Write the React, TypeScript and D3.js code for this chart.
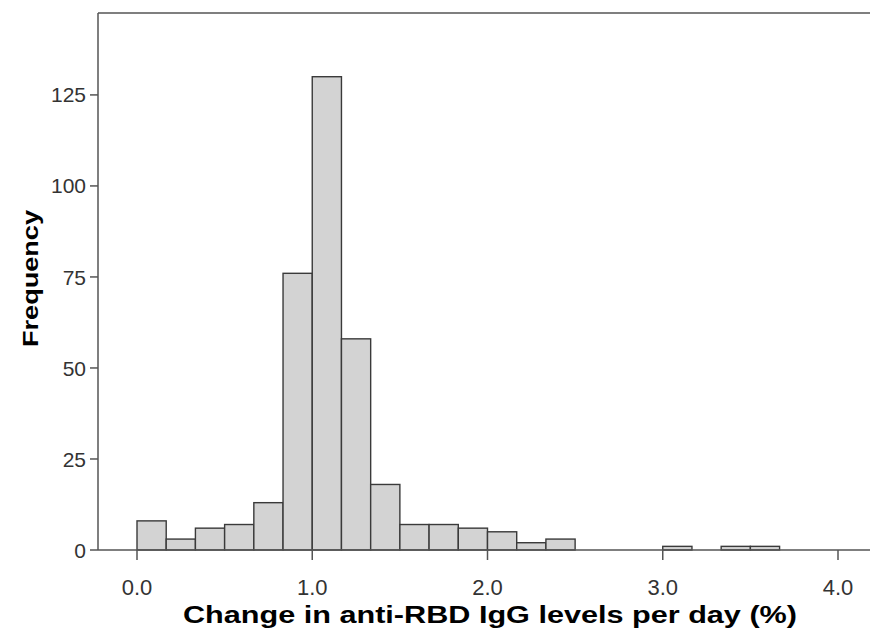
import React, { useEffect, useRef } from 'react';
import * as d3 from 'd3';

// histogram bins of width 1/6 starting at 0.0
const binWidth = 1 / 6;
const counts = [8, 3, 6, 7, 13, 76, 130, 58, 18, 7, 7, 6, 5, 2, 3, 0, 0, 0, 1, 0, 1, 1];
const xTicks = [0, 1, 2, 3, 4];
const yTicks = [0, 25, 50, 75, 100, 125];
const xTitle = 'Change in anti-RBD IgG levels per day (%)';
const yTitle = 'Frequency';

const W = 870;
const H = 631;

export default function App() {
  const svgRef = useRef<SVGSVGElement>(null);

  useEffect(() => {
    if (!svgRef.current) return;
    const svg = d3.select(svgRef.current);
    svg.selectAll('*').remove();

    const frame = { left: 98, top: 13, right: 870, bottom: 550 };

    const x = d3.scaleLinear().domain([0, 4]).range([137, 838]);
    const y = d3.scaleLinear().domain([0, 147.5]).range([frame.bottom, frame.top]);

    const bins = counts.map((c, i) => ({ x0: i * binWidth, x1: (i + 1) * binWidth, c }));

    // bars
    svg.append('g')
      .selectAll('rect')
      .data(bins.filter(d => d.c > 0))
      .enter()
      .append('rect')
      .attr('x', d => x(d.x0))
      .attr('y', d => y(d.c))
      .attr('width', d => x(d.x1) - x(d.x0))
      .attr('height', d => y(0) - y(d.c))
      .attr('fill', '#d3d3d3')
      .attr('stroke', '#3a3a3a')
      .attr('stroke-width', 1.4);

    // frame: top and left lines, bottom axis
    const lineColor = '#555';
    svg.append('line')
      .attr('x1', frame.left).attr('x2', frame.right)
      .attr('y1', frame.top).attr('y2', frame.top)
      .attr('stroke', lineColor).attr('stroke-width', 1.5);
    svg.append('line')
      .attr('x1', frame.left).attr('x2', frame.left)
      .attr('y1', frame.top).attr('y2', frame.bottom)
      .attr('stroke', lineColor).attr('stroke-width', 1.5);
    svg.append('line')
      .attr('x1', frame.left).attr('x2', frame.right)
      .attr('y1', frame.bottom).attr('y2', frame.bottom)
      .attr('stroke', lineColor).attr('stroke-width', 1.5);

    // y ticks
    const yg = svg.append('g');
    yTicks.forEach(t => {
      yg.append('line')
        .attr('x1', frame.left - 8).attr('x2', frame.left)
        .attr('y1', y(t)).attr('y2', y(t))
        .attr('stroke', lineColor).attr('stroke-width', 1.5);
      yg.append('text')
        .attr('x', frame.left - 12)
        .attr('y', y(t))
        .attr('dy', '0.36em')
        .attr('text-anchor', 'end')
        .attr('font-family', 'Liberation Sans, Arial, sans-serif')
        .attr('font-size', 21)
        .attr('fill', '#333')
        .text(String(t));
    });

    // x ticks
    const xg = svg.append('g');
    xTicks.forEach(t => {
      xg.append('line')
        .attr('x1', x(t)).attr('x2', x(t))
        .attr('y1', frame.bottom).attr('y2', frame.bottom + 10)
        .attr('stroke', lineColor).attr('stroke-width', 1.5);
      xg.append('text')
        .attr('x', x(t))
        .attr('y', 595)
        .attr('text-anchor', 'middle')
        .attr('font-family', 'Liberation Sans, Arial, sans-serif')
        .attr('font-size', 22)
        .attr('fill', '#333')
        .text(d3.format('.1f')(t));
    });

    // axis titles
    svg.append('text')
      .attr('x', 183)
      .attr('y', 623)
      .attr('font-family', 'Liberation Sans, Arial, sans-serif')
      .attr('font-weight', 'bold')
      .attr('font-size', 23)
      .attr('textLength', 614)
      .attr('lengthAdjust', 'spacingAndGlyphs')
      .attr('fill', '#000')
      .text(xTitle);

    svg.append('text')
      .attr('transform', 'translate(38,347) rotate(-90)')
      .attr('font-family', 'Liberation Sans, Arial, sans-serif')
      .attr('font-weight', 'bold')
      .attr('font-size', 22)
      .attr('textLength', 137)
      .attr('lengthAdjust', 'spacingAndGlyphs')
      .attr('fill', '#000')
      .text(yTitle);
  }, []);

  return (
    <div style={{ position: 'absolute', left: 0, top: 0, width: W, height: H, background: '#fff' }}>
      <svg ref={svgRef} width={W} height={H} style={{ display: 'block' }} />
    </div>
  );
}
